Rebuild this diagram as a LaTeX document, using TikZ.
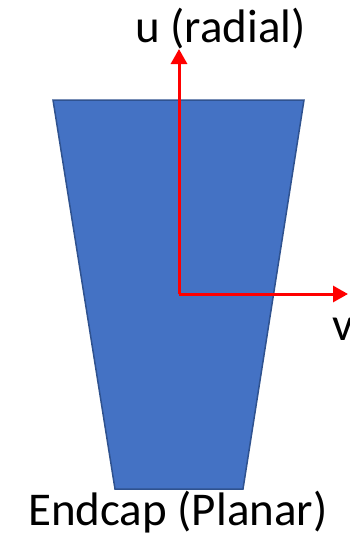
\documentclass[tikz,border=0pt]{standalone}
\usepackage{fontspec}
\setmainfont{Carlito}
\usetikzlibrary{arrows.meta}
\definecolor{fillblue}{HTML}{4472C4}
\definecolor{edgeblue}{HTML}{2F528F}
\tikzset{
  axis/.style={draw=red, line width=3pt, -{Triangle[length=15pt,width=16pt]}},
  lbl/.style={anchor=base west, inner sep=0pt, font=\fontsize{47}{51}\selectfont}
}
\begin{document}
\begin{tikzpicture}[x=1pt,y=-1pt]
\useasboundingbox (0,0) rectangle (350,541);
\draw[fill=fillblue, draw=edgeblue, line width=1.5pt] (53,100) -- (304,100) -- (243,489) -- (115,489) -- cycle;
\coordinate (o) at (179,294);
\coordinate (utip) at (179,49);
\coordinate (vtip) at (348,294);
\draw[axis] (o) -- (utip);
\draw[axis] (o) -- (vtip);
\node[lbl] (u) at (135,42) {u (radial)};
\node[lbl] (v) at (332,340) {v};
\node[lbl] (cap) at (28,525) {Endcap (Planar)};
\end{tikzpicture}
\end{document}
